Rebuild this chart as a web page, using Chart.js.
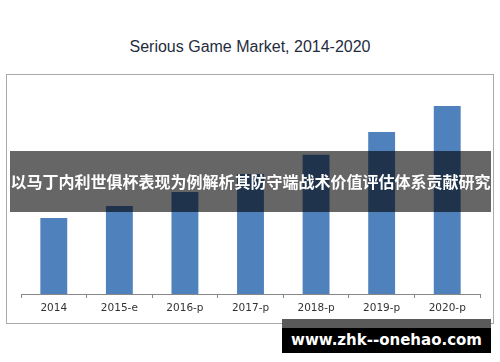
<!DOCTYPE html>
<html>
<head>
<meta charset="utf-8">
<script src="https://cdn.jsdelivr.net/npm/chart.js@4/dist/chart.umd.min.js"></script>
<style>
  html, body { margin:0; padding:0; background:#fff; }
  #wrap { position:relative; width:500px; height:362px; overflow:hidden; }
  #frame { position:absolute; left:6px; top:74px; width:486px; height:248px; border:1px solid #aaa; box-sizing:content-box; }
  #title { position:absolute; left:0; top:37px; width:500px; text-align:center; font-family:"Liberation Sans", Arial, sans-serif; font-size:16px; color:#1f2d3d; line-height:20px; }
  canvas { position:absolute; left:0; top:0; }
  #banner { position:absolute; left:10px; top:151px; width:481px; height:61px; background:rgba(0,0,0,0.6); color:#fff; font-family:"Noto Sans CJK SC", sans-serif; font-weight:bold; font-size:16px; line-height:61px; text-align:center; white-space:nowrap; }
  #wm { position:absolute; left:282px; top:319px; width:209px; height:34px; background:#000; }
  #wmstrip { position:absolute; left:0; top:0; width:209px; height:9px; background:#5a5a5a; }
  #wmtext { position:absolute; left:0; top:9px; width:209px; height:25px; line-height:25px; text-align:center; color:#fff; font-family:"DejaVu Sans", Verdana, sans-serif; font-weight:bold; font-size:15px; white-space:nowrap; }
</style>
</head>
<body>
<div id="wrap">
  <div id="frame"></div>
  <div id="title">Serious Game Market, 2014-2020</div>
  <canvas id="c" width="500" height="362"></canvas>
  <div id="banner">以马丁内利世俱杯表现为例解析其防守端战术价值评估体系贡献研究</div>
  <div id="wm"><div id="wmstrip"></div><div id="wmtext">www.zhk--onehao.com</div></div>
</div>
<script>
const categories = ["2014", "2015-e", "2016-p", "2017-p", "2018-p", "2019-p", "2020-p"];
const marketValues = [1.9, 2.2, 2.55, 3.0, 3.48, 4.05, 4.7];
const yMax = 5.3;

new Chart(document.getElementById('c'), {
  type: 'bar',
  data: {
    labels: categories,
    datasets: [{
      data: marketValues,
      backgroundColor: '#4f81bd',
      borderWidth: 0,
      barPercentage: 0.41,
      categoryPercentage: 1.0
    }]
  },
  options: {
    responsive: false,
    animation: false,
    layout: { padding: { left: 21, right: 20, top: 82, bottom: 44 } },
    plugins: { legend: { display: false }, title: { display: false }, tooltip: { enabled: false } },
    scales: {
      x: {
        offset: true,
        grid: { offset: true, drawOnChartArea: false, drawTicks: true, tickLength: 4, color: '#888' },
        border: { display: true, color: '#888', width: 1 },
        ticks: { color: '#333', padding: 4, font: { family: '"DejaVu Sans", Verdana, sans-serif', size: 10.5 } },
        afterFit: (s) => { s.height = 24; }
      },
      y: { display: false, min: 0, max: yMax }
    }
  }
});
</script>
</body>
</html>
